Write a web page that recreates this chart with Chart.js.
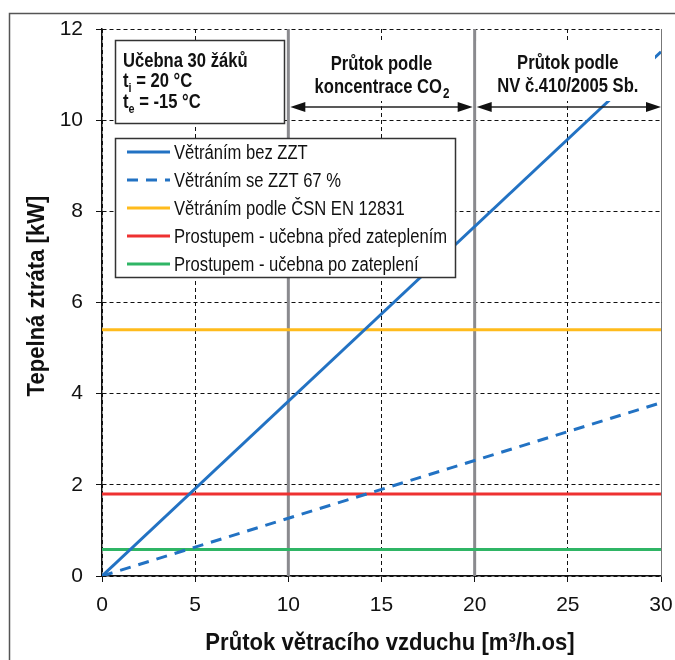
<!DOCTYPE html>
<html>
<head>
<meta charset="utf-8">
<script src="https://cdn.jsdelivr.net/npm/chart.js@4.4.1/dist/chart.umd.min.js"></script>
<style>
  body { margin: 0; background: #fff; }
  canvas { display: block; }
</style>
</head>
<body>
<canvas id="lossChart" width="675" height="660"></canvas>
<script>
// data
var flow = [0, 30];
var heatNoZZT = [0, 11.5];
var heatZZT67 = [0, 3.8];
var heatCSN = [5.4, 5.4];
var heatBefore = [1.8, 1.8];
var heatAfter = [0.58, 0.58];
var zoneLimits = [10, 20];
var yRange = [0, 12];
var seriesNames = [
	'Větráním bez ZZT',
	'Větráním se ZZT 67 %',
	'Větráním podle ČSN EN 12831',
	'Prostupem - učebna před zateplením',
	'Prostupem - učebna po zateplení'
];

var FONT = "'Liberation Sans', Arial, sans-serif";

function pts(xs, ys) {
	var out = [];
	for (var i in xs) out.push({x: xs[i], y: ys[i]});
	return out;
}

var datasets = [
	{label: seriesNames[0], data: pts(flow, heatNoZZT), borderColor: '#2272c3', borderWidth: 3},
	{label: seriesNames[1], data: pts(flow, heatZZT67), borderColor: '#2272c3', borderWidth: 3, borderDash: [11, 8]},
	{label: seriesNames[2], data: pts(flow, heatCSN), borderColor: '#ffbb1c', borderWidth: 3},
	{label: seriesNames[3], data: pts(flow, heatBefore), borderColor: '#ee3131', borderWidth: 3},
	{label: seriesNames[4], data: pts(flow, heatAfter), borderColor: '#2fb565', borderWidth: 3}
];
for (var z in zoneLimits) {
	datasets.push({
		label: 'zone', data: pts([zoneLimits[z], zoneLimits[z]], yRange),
		borderColor: '#8a8a8e', borderWidth: 3
	});
}
datasets.forEach(function(d) { d.pointRadius = 0; d.fill = false; d.tension = 0; });

// narrow text (the original uses a condensed face)
function narrow(ctx, text, x, y, sx, align) {
	var w = ctx.measureText(text).width * sx;
	var x0 = align === 'center' ? x - w / 2 : (align === 'right' ? x - w : x);
	ctx.save();
	ctx.translate(x0, y);
	ctx.scale(sx, 1);
	ctx.textAlign = 'left';
	ctx.fillText(text, 0, 0);
	ctx.restore();
	return w;
}

function arrow(ctx, x1, x2, y) {
	ctx.strokeStyle = '#222'; ctx.fillStyle = '#111'; ctx.lineWidth = 1.5;
	ctx.beginPath(); ctx.moveTo(x1 + 8, y); ctx.lineTo(x2 - 8, y); ctx.stroke();
	ctx.beginPath(); ctx.moveTo(x1, y); ctx.lineTo(x1 + 15, y - 5); ctx.lineTo(x1 + 15, y + 5); ctx.closePath(); ctx.fill();
	ctx.beginPath(); ctx.moveTo(x2, y); ctx.lineTo(x2 - 15, y - 5); ctx.lineTo(x2 - 15, y + 5); ctx.closePath(); ctx.fill();
}

var extras = {
	id: 'extras',
	afterDatasetsDraw: function(chart) {
		var ctx = chart.ctx, xs = chart.scales.x, a = chart.chartArea;
		var x10 = xs.getPixelForValue(zoneLimits[0]), x20 = xs.getPixelForValue(zoneLimits[1]);
		var SX = 0.83;
		ctx.save();
		ctx.textBaseline = 'alphabetic';

		// right frame of plot
		ctx.strokeStyle = '#777'; ctx.lineWidth = 1;
		ctx.beginPath(); ctx.moveTo(a.right + 0.5, a.top); ctx.lineTo(a.right + 0.5, a.bottom); ctx.stroke();

		// white boxes for zone captions
		ctx.fillStyle = '#fff';
		ctx.fillRect(x10 + 2, 41, x20 - x10 - 4, 60);
		ctx.fillRect(x20 + 2, 41, a.right - x20 - 8, 60);

		ctx.fillStyle = '#111';
		ctx.font = 'bold 20px ' + FONT;
		var c1 = (x10 + x20) / 2, c2 = (x20 + a.right) / 2;
		narrow(ctx, 'Průtok podle', c1, 70, SX, 'center');
		narrow(ctx, 'Průtok podle', c2, 69, SX, 'center');
		narrow(ctx, 'NV č.410/2005 Sb.', c2, 92, SX, 'center');
		// koncentrace CO2 with subscript
		ctx.font = 'bold 20px ' + FONT;
		var wMain = ctx.measureText('koncentrace CO').width * SX;
		ctx.font = 'bold 14px ' + FONT;
		var wSub = ctx.measureText('2').width * SX;
		var sx0 = c1 - (wMain + wSub) / 2;
		ctx.font = 'bold 20px ' + FONT;
		narrow(ctx, 'koncentrace CO', sx0, 93, SX, 'left');
		ctx.font = 'bold 14px ' + FONT;
		narrow(ctx, '2', sx0 + wMain + 1, 98, SX, 'left');

		arrow(ctx, x10 + 2, x20 - 2, 107);
		arrow(ctx, x20 + 2, a.right, 107);

		// info box
		ctx.fillStyle = '#fff';
		ctx.fillRect(115, 40, 169, 83);
		ctx.strokeStyle = '#333'; ctx.lineWidth = 1.5;
		ctx.strokeRect(115.5, 40.5, 169, 83);
		ctx.fillStyle = '#111';
		ctx.font = 'bold 20px ' + FONT;
		narrow(ctx, 'Učebna 30 žáků', 123, 67, SX, 'left');
		var rows = [['i', ' = 20 °C', 87], ['e', ' = -15 °C', 108]];
		rows.forEach(function(r) {
			ctx.font = 'bold 20px ' + FONT;
			var w = narrow(ctx, 't', 123, r[2], SX, 'left');
			ctx.font = 'bold 13px ' + FONT;
			var w2 = narrow(ctx, r[0], 123 + w, r[2] + 5, SX, 'left');
			ctx.font = 'bold 20px ' + FONT;
			narrow(ctx, r[1], 123 + w + w2, r[2], SX, 'left');
		});

		// legend
		ctx.fillStyle = '#fff';
		ctx.fillRect(115, 138, 340, 139);
		ctx.strokeStyle = '#333'; ctx.lineWidth = 1.5;
		ctx.strokeRect(115.5, 138.5, 340, 139);
		ctx.font = '20px ' + FONT;
		for (var i = 0; i < seriesNames.length; i++) {
			var d = chart.data.datasets[i], y = 152 + i * 28;
			ctx.strokeStyle = d.borderColor; ctx.lineWidth = 3;
			ctx.setLineDash(d.borderDash || []);
			ctx.beginPath(); ctx.moveTo(127, y); ctx.lineTo(170, y); ctx.stroke();
			ctx.setLineDash([]);
			ctx.fillStyle = '#111';
			narrow(ctx, d.label, 174, y + 7, SX, 'left');
		}

		// axis titles
		ctx.fillStyle = '#111';
		ctx.font = 'bold 24px ' + FONT;
		narrow(ctx, 'Průtok větracího vzduchu [m³/h.os]', 390, 650, 0.92, 'center');
		ctx.save();
		ctx.translate(44, 296);
		ctx.rotate(-Math.PI / 2);
		narrow(ctx, 'Tepelná ztráta [kW]', 0, 0, 0.92, 'center');
		ctx.restore();

		// outer frame
		ctx.strokeStyle = '#555'; ctx.lineWidth = 1.5;
		ctx.strokeRect(9.5, 13.5, 700, 700);
		ctx.restore();
	}
};

var lossChart = new Chart(document.getElementById('lossChart'), {
	type: 'line',
	data: {datasets: datasets},
	options: {
		responsive: false,
		animation: false,
		layout: {autoPadding: false, padding: {top: 29, right: 14, left: 0, bottom: 0}},
		plugins: {legend: {display: false}, tooltip: {enabled: false}},
		scales: {
			x: {
				type: 'linear', min: 0, max: 30,
				ticks: {stepSize: 5, color: '#111', font: {family: FONT, size: 21}, padding: 11, maxRotation: 0},
				grid: {color: '#111', lineWidth: 1, tickLength: 6, tickColor: '#111'},
				border: {display: true, color: '#111', width: 1.5, dash: [4, 3]},
				afterFit: function(s) { s.height = 84; s.paddingLeft = 0; s.paddingRight = 0; }
			},
			y: {
				min: yRange[0], max: yRange[1],
				ticks: {stepSize: 2, color: '#111', font: {family: FONT, size: 21}, padding: 13},
				grid: {color: '#111', lineWidth: 1, tickLength: 6, tickColor: '#111'},
				border: {display: true, color: '#111', width: 1.5, dash: [4, 3]},
				afterFit: function(s) { s.width = 102; s.paddingTop = 0; s.paddingBottom = 0; }
			}
		}
	},
	plugins: [extras]
});
</script>
</body>
</html>
